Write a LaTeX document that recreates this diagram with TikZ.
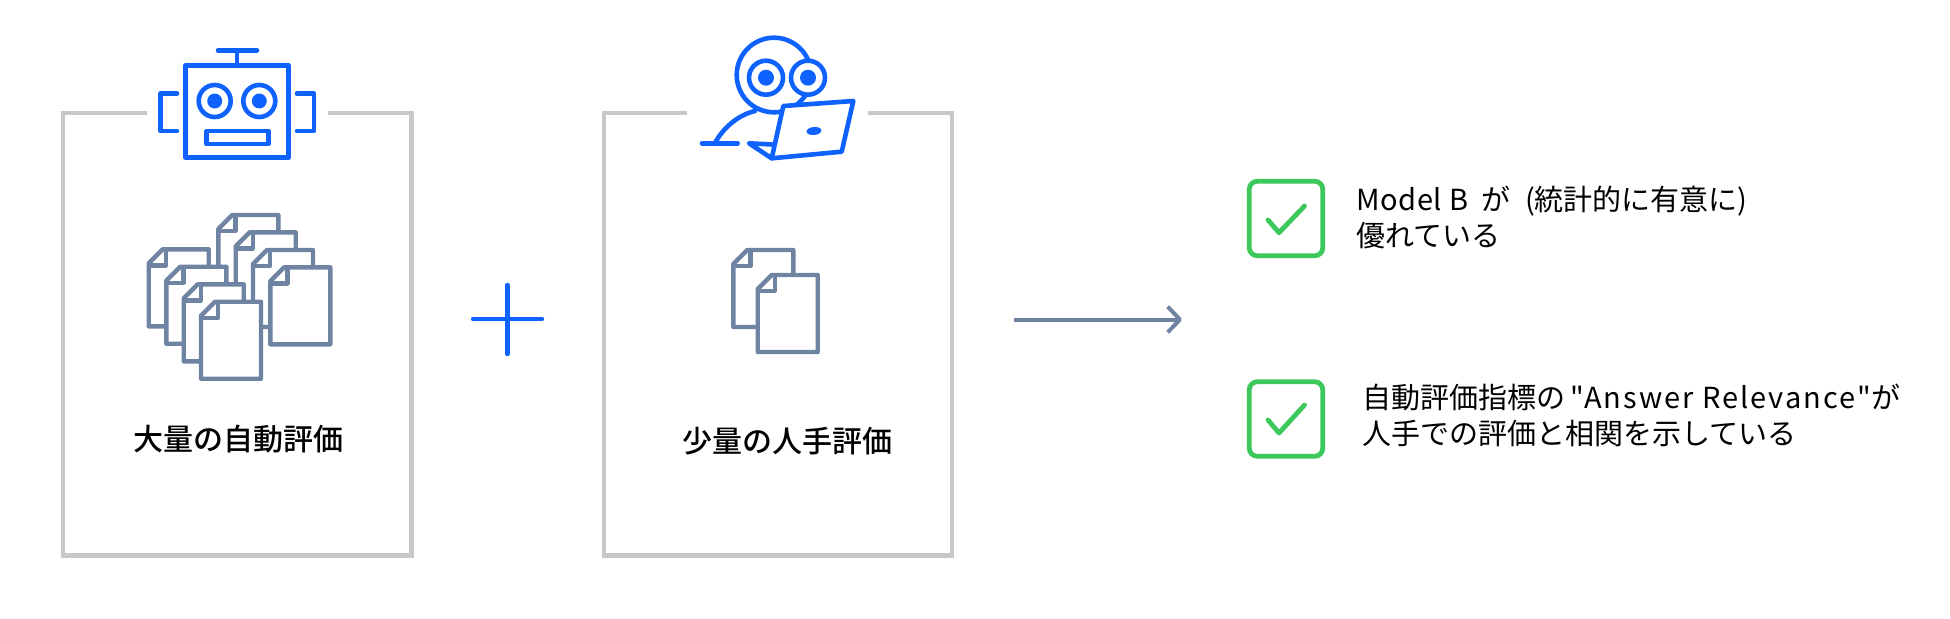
\documentclass[tikz,border=0pt]{standalone}
\usepackage{fontspec}
\setmainfont{Noto Sans CJK JP}
\newfontfamily\jpm{Noto Sans CJK JP}[UprightFont=* Medium,BoldFont=* Bold]
\newfontfamily\jpb{Noto Sans CJK JP}
\newfontfamily\latw{Noto Sans CJK JP}[LetterSpace=7]
\newfontfamily\latn{Noto Sans CJK JP}[LetterSpace=2]
\definecolor{iconblue}{HTML}{0F62FE}
\definecolor{docgrey}{HTML}{6F83A3}
\definecolor{framegrey}{HTML}{C8C8C8}
\definecolor{okgreen}{HTML}{3CC85A}
\tikzset{
 frameline/.style={draw=framegrey,line width=4.5pt,line join=miter},
 iconline/.style={draw=iconblue,line width=4.6pt,line join=round,line cap=round},
 iconfill/.style={fill=iconblue,draw=none},
 docline/.style={draw=docgrey,line width=4.4pt,line join=round,fill=white},
 foldline/.style={draw=docgrey,line width=4.4pt,line join=round},
 okbox/.style={draw=okgreen,line width=4.8pt,rounded corners=8pt,fill=white},
 okmark/.style={draw=okgreen,line width=4.8pt,line cap=round,line join=round},
 head/.style={font=\fontsize{30}{36}\selectfont\jpm,text=black,inner sep=0pt},
 body/.style={font=\fontsize{29}{36}\selectfont\jpb,text=black,inner sep=0pt,align=left,anchor=base west},
}
\newcommand{\docicon}[2]{%
 \draw[docline] (#1+14,#2) -- (#1+60,#2) -- (#1+60,#2+77) -- (#1,#2+77) -- (#1,#2+14) -- cycle;
 \draw[foldline] (#1+17,#2) -- (#1+17,#2+16) -- (#1,#2+16);
}
\begin{document}
\begin{tikzpicture}[x=1pt,y=-1pt]
\useasboundingbox (0,0) rectangle (1950,618);
% frames
\coordinate (fa1) at (147,113); \coordinate (fa2) at (62.8,113); \coordinate (fa3) at (62.8,555.7);
\coordinate (fa4) at (411.5,555.7); \coordinate (fa5) at (411.5,113); \coordinate (fa6) at (328,113);
\draw[frameline] (fa1) -- (fa2) -- (fa3) -- (fa4) -- (fa5) -- (fa6);
\coordinate (fb1) at (687,113); \coordinate (fb2) at (604,113); \coordinate (fb3) at (604,555.7);
\coordinate (fb4) at (952,555.7); \coordinate (fb5) at (952,113); \coordinate (fb6) at (868,113);
\draw[frameline] (fb1) -- (fb2) -- (fb3) -- (fb4) -- (fb5) -- (fb6);
% robot
\draw[iconline] (185.5,65.5) rectangle (288.5,157.5);
\draw[iconline] (218,50.3) -- (257,50.3) (237,50.3) -- (237,65.5);
\draw[iconline] (214.7,101) circle[radius=16];
\draw[iconline] (259.3,101) circle[radius=16];
\fill[iconfill] (214.7,101) circle[radius=7.5];
\fill[iconfill] (259.3,101) circle[radius=7.5];
\draw[iconline,line cap=butt] (206.5,131) rectangle (268.5,144);
\draw[iconline] (177,93.5) -- (160.7,93.5) -- (160.7,131) -- (177,131);
\draw[iconline] (297,93.5) -- (314,93.5) -- (314,131) -- (297,131);
% person
\draw[iconline] (774,75) circle[radius=37.3];
\draw[iconline,fill=white] (766,77.7) circle[radius=17];
\draw[iconline,fill=white] (808,77.7) circle[radius=17];
\fill[iconfill] (766,77.7) circle[radius=8];
\fill[iconfill] (808,77.7) circle[radius=8];
\draw[iconline] (755,111) .. controls (738,115) and (723,128) .. (715,143);
\draw[iconline] (702,143.3) -- (737.7,143.3);
\draw[iconline] (771.7,158.3) -- (749,143.3) -- (772,144.5);
\draw[iconline,fill=white] (783.3,106) -- (853.3,101) -- (841.7,151.7) -- (771.7,158.3) -- cycle;
\fill[iconfill,rotate around={6:(814,131)}] (814,131) ellipse[x radius=7.5,y radius=4];
% documents
\docicon{218.3}{215}
\docicon{235.7}{232.3}
\docicon{253}{250}
\docicon{270.3}{267.3}
\docicon{148.7}{249.3}
\docicon{166.3}{266.7}
\docicon{183.7}{284.3}
\docicon{201}{301.7}
\docicon{733.3}{250}
\docicon{757.7}{275}
% labels
\node[head] (la) at (238,439) {大量の自動評価};
\node[head] (lb) at (787.5,441.5) {少量の人手評価};
% plus
\draw[draw=iconblue,line width=4.4pt,line cap=round] (473,319) -- (542,319) (507.3,285) -- (507.3,354);
% arrow
\coordinate (as) at (1014,319.5); \coordinate (ae) at (1180,319.5);
\draw[draw=docgrey,line width=4pt] (as) -- (ae);
\draw[draw=docgrey,line width=4pt,line join=round] (1167.7,306.7) -- (ae) -- (1167.7,332.3);
% checks
\node[okbox,minimum width=73.5pt,minimum height=74.5pt] (ca) at (1286,218.5) {};
\node[okbox,minimum width=73.5pt,minimum height=74.5pt] (cb) at (1286,419) {};
\draw[okmark] (1268,220) -- (1279,232.7) -- (1304.5,206);
\draw[okmark] (1268,420) -- (1279,433) -- (1304.5,405);
\node[body] (ta) at (1356,246) {{\latn Model B}\hspace{7pt} が\hspace{8pt} (統計的に有意に)\\優れている};
\node[body] (tb) at (1362,444) {自動評価指標の\hspace{5pt}{\latw "Answer Relevance"}が\\人手での評価と相関を示している};
\end{tikzpicture}
\end{document}
